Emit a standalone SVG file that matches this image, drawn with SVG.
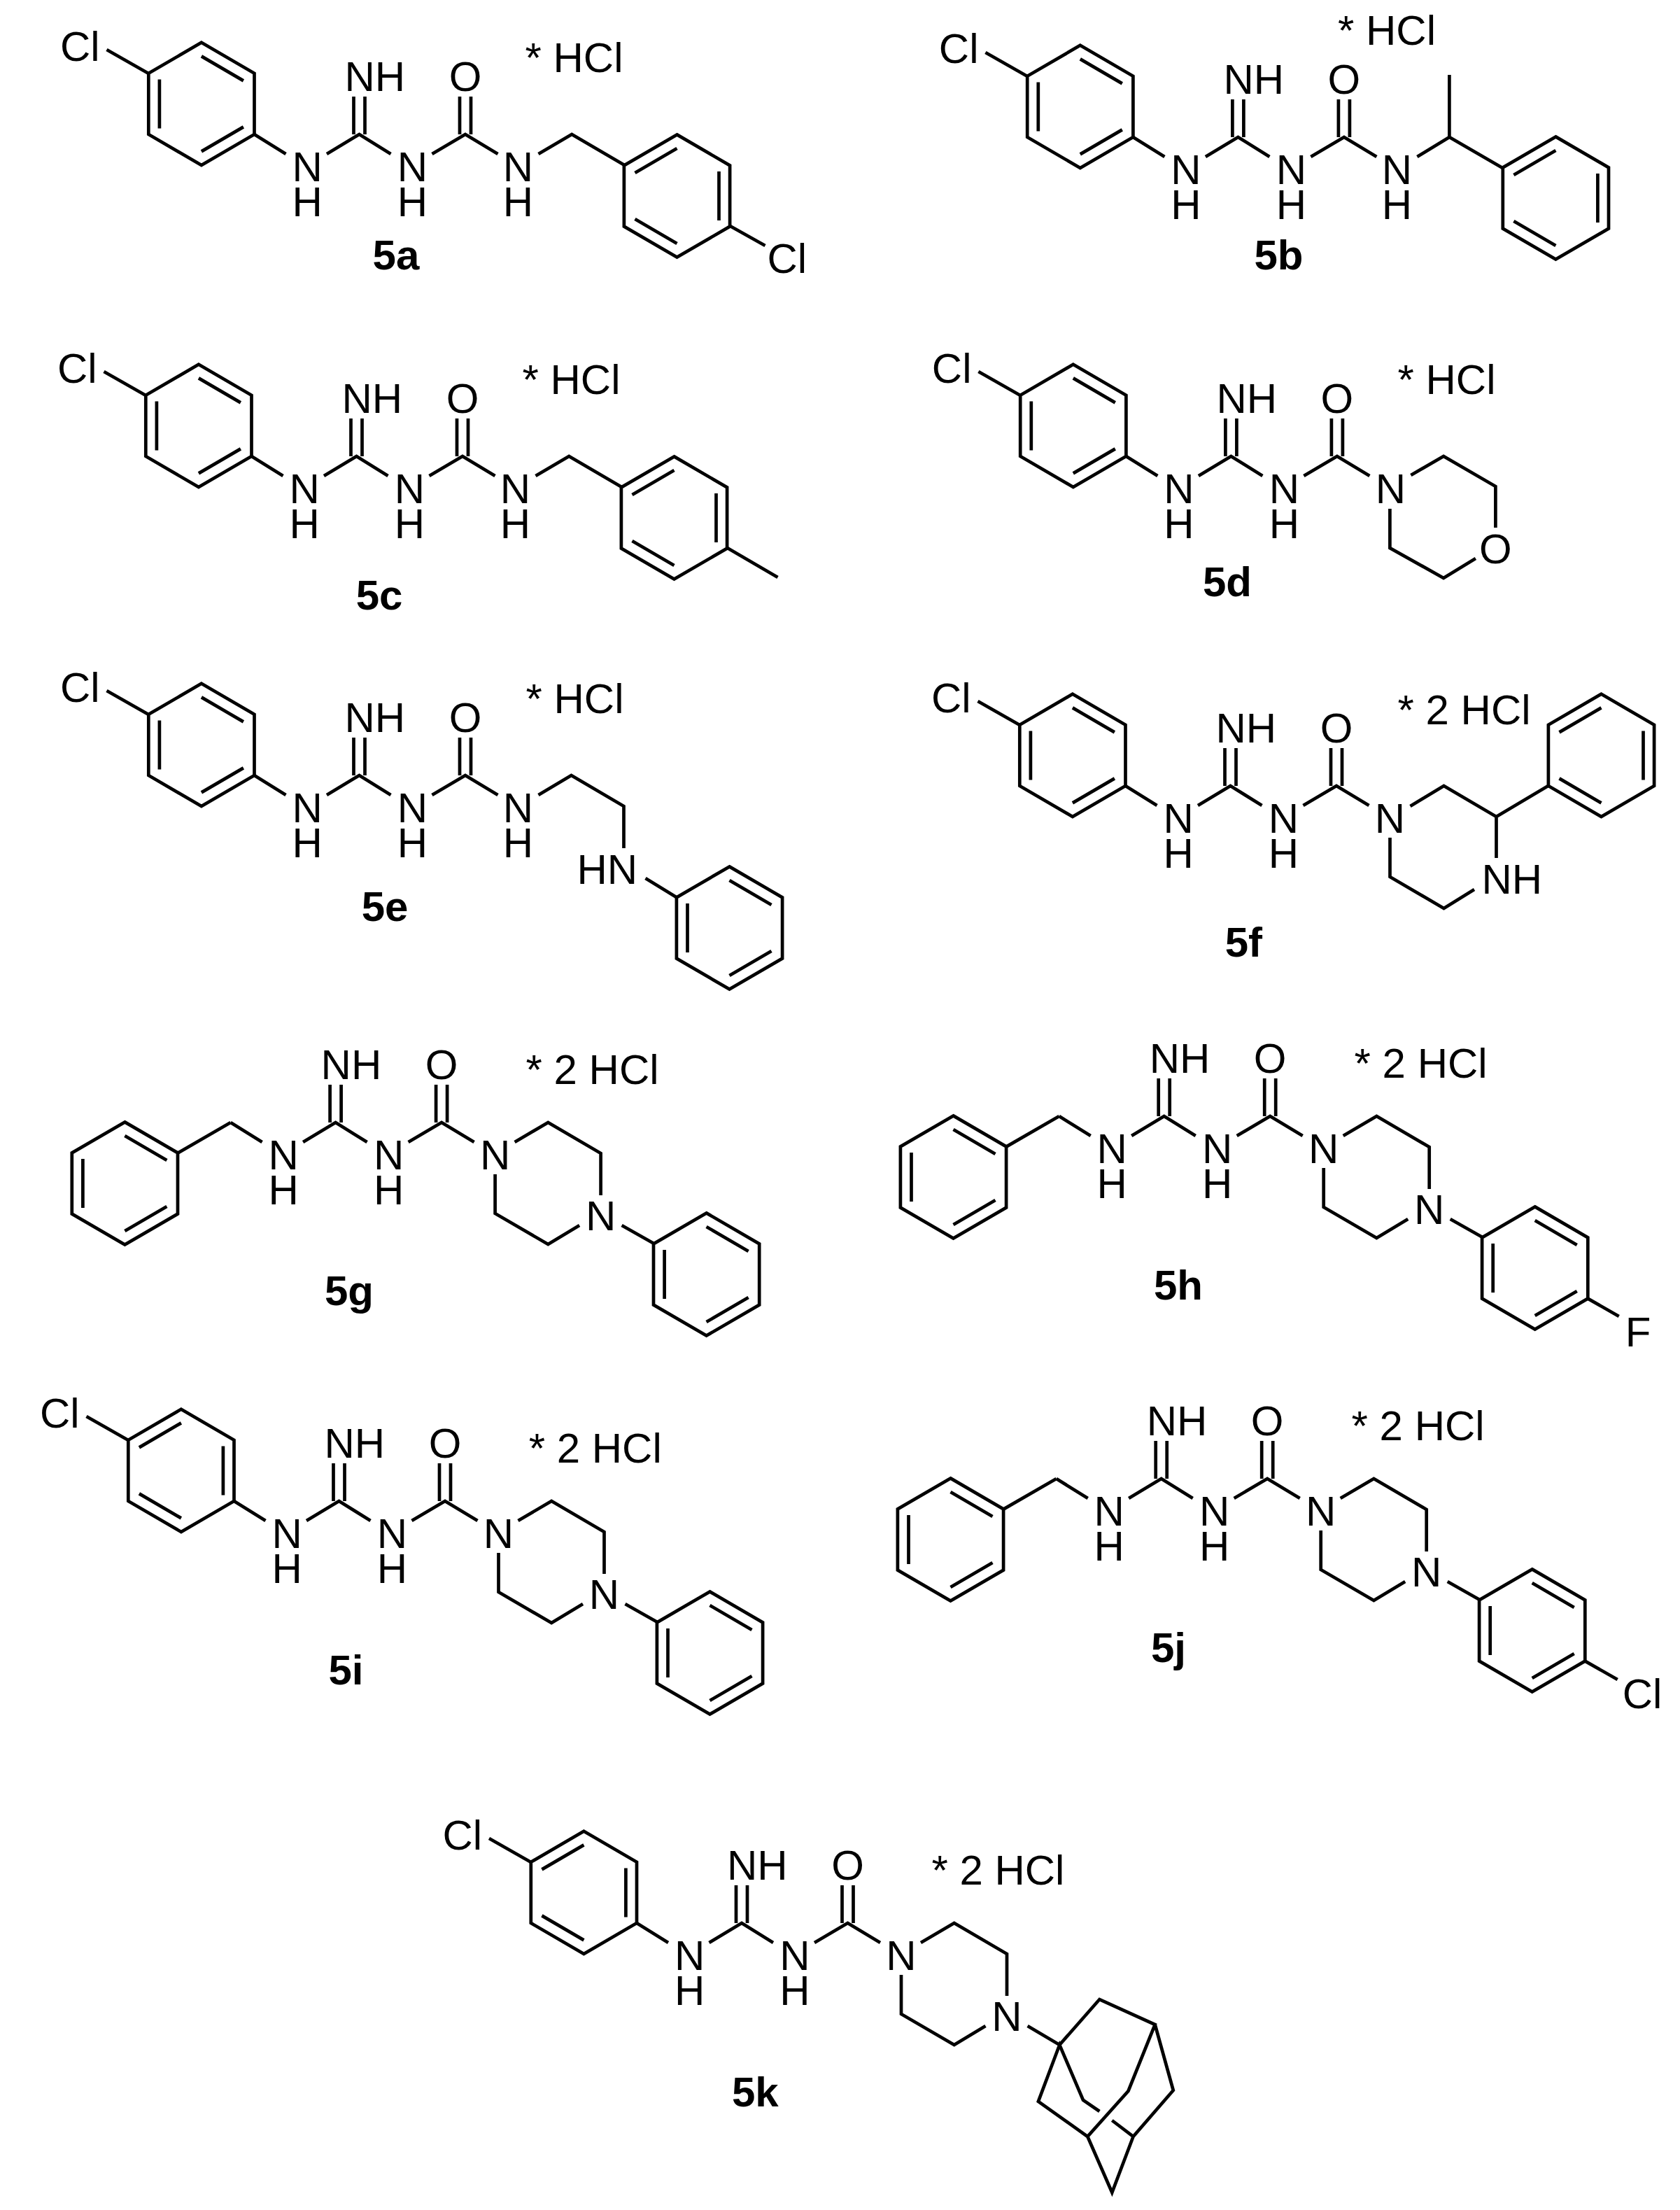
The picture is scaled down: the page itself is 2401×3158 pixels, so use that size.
<svg xmlns="http://www.w3.org/2000/svg" width="2401" height="3158" viewBox="0 0 2401 3158">
<style>
.b{fill:none;stroke:#000;stroke-width:4.7;stroke-linejoin:miter}
.t{font-family:"Liberation Sans",Arial,sans-serif;font-size:60px;fill:#000}
.m{text-anchor:middle}
.l{font-weight:bold}
</style>
<defs>
<g id="ring-a" class="b"><polygon points="0,-87.6 75.6,-43.6 75.6,43.6 0,87.6 -75.6,43.6 -75.6,-43.6"/><path d="M0,-68L60,-33M-60,-35V35M0,68L60,33"/></g>
<g id="ring-b" class="b"><polygon points="0,-87.6 75.6,-43.6 75.6,43.6 0,87.6 -75.6,43.6 -75.6,-43.6"/><path d="M0,-68L-60,-33M60,-35V35M0,68L-60,33"/></g>
<path id="core" class="b" d="M0,0L45,28M103.5,28L150,0L195,28M254,28L301.5,0L348,28M142,0V-54M158,0V-54M293.500,0V-54M309.500,0V-54"/>
<path id="clbond" class="b" d="M-151.200,-87L-211,-121"/>
<path id="pip" class="b" d="M406,28L453.700,0L529,44V104M498.500,147L453.700,174L378,130V74"/>
<path id="pipar" class="b" d="M559,147L605,173"/>
<path id="benzyl" class="b" d="M-75.600,43.600L0,0"/>
</defs>
<g id="bg"><rect width="2401" height="3158" fill="#fff"/></g>

<g id="m5a" transform="translate(363.500,192)">
<use href="#ring-a" x="-75.600" y="-43.600"/><use href="#clbond"/><use href="#core"/>
<path class="b" d="M406,28L453.700,0L529,44"/><use href="#ring-b" x="604" y="88"/><path class="b" d="M680,131L730,159"/>
<g class="t"><text x="-277.600" y="-105">Cl</text><text class="m" x="75.600" y="67">N<tspan x="75.600" dy="50">H</tspan></text><text class="m" x="226" y="67">N<tspan x="226" dy="50">H</tspan></text><text class="m" x="377" y="67">N<tspan x="377" dy="50">H</tspan></text><text x="129" y="-62">NH</text><text class="m" x="301.500" y="-62">O</text><text x="733" y="198">Cl</text></g>
</g>
<text id="salt5a" class="t" x="750.500" y="103">* HCl</text>
<text id="label5a" class="t l" x="532.600" y="385">5a</text>

<g id="m5b" transform="translate(1619.400,196)">
<use href="#ring-a" x="-75.600" y="-43.600"/><use href="#clbond"/><use href="#core"/>
<path class="b" d="M406,28L452,0L528,44M452,0V-89"/><use href="#ring-b" x="604" y="87"/>
<g class="t"><text x="-277.600" y="-106">Cl</text><text class="m" x="75.600" y="67">N<tspan x="75.600" dy="50">H</tspan></text><text class="m" x="226" y="67">N<tspan x="226" dy="50">H</tspan></text><text class="m" x="377" y="67">N<tspan x="377" dy="50">H</tspan></text><text x="129" y="-62">NH</text><text class="m" x="301.500" y="-62">O</text></g>
</g>
<text id="salt5b" class="t" x="1912" y="64">* HCl</text>
<text id="label5b" class="t l" x="1792.500" y="385">5b</text>

<g id="m5c" transform="translate(359.500,652)">
<use href="#ring-a" x="-75.600" y="-43.600"/><use href="#clbond"/><use href="#core"/>
<path class="b" d="M406,28L453.700,0L529,44"/><use href="#ring-b" x="604" y="88"/><path class="b" d="M680,131L752,173"/>
<g class="t"><text x="-277.600" y="-105">Cl</text><text class="m" x="75.600" y="67">N<tspan x="75.600" dy="50">H</tspan></text><text class="m" x="226" y="67">N<tspan x="226" dy="50">H</tspan></text><text class="m" x="377" y="67">N<tspan x="377" dy="50">H</tspan></text><text x="129" y="-62">NH</text><text class="m" x="301.500" y="-62">O</text></g>
</g>
<text id="salt5c" class="t" x="746.500" y="563">* HCl</text>
<text id="label5c" class="t l" x="508.700" y="871">5c</text>

<g id="m5d" transform="translate(1609.400,652)">
<use href="#ring-a" x="-75.600" y="-43.600"/><use href="#clbond"/><use href="#core"/>
<path class="b" d="M407,27L453.700,0L528,43V102M499.500,146L453.700,174L377,131V75"/>
<g class="t"><text x="-277.600" y="-105">Cl</text><text class="m" x="75.600" y="67">N<tspan x="75.600" dy="50">H</tspan></text><text class="m" x="226" y="67">N<tspan x="226" dy="50">H</tspan></text><text class="m" x="378" y="67">N</text><text x="129" y="-62">NH</text><text class="m" x="301.500" y="-62">O</text><text class="m" x="528" y="153">O</text></g>
</g>
<text id="salt5d" class="t" x="1997.500" y="563">* HCl</text>
<text id="label5d" class="t l" x="1719" y="852">5d</text>

<g id="m5e" transform="translate(363.500,1108)">
<use href="#ring-a" x="-75.600" y="-43.600"/><use href="#clbond"/><use href="#core"/>
<path class="b" d="M406,28L453,0L528,44V104M559,147L603,174"/><use href="#ring-a" x="679" y="218"/>
<g class="t"><text x="-277.600" y="-105">Cl</text><text class="m" x="75.600" y="67">N<tspan x="75.600" dy="50">H</tspan></text><text class="m" x="226" y="67">N<tspan x="226" dy="50">H</tspan></text><text class="m" x="377" y="67">N<tspan x="377" dy="50">H</tspan></text><text x="129" y="-62">NH</text><text class="m" x="301.500" y="-62">O</text><text x="461" y="155">HN</text></g>
</g>
<text id="salt5e" class="t" x="751.500" y="1019">* HCl</text>
<text id="label5e" class="t l" x="516.700" y="1316">5e</text>

<g id="m5f" transform="translate(1608.500,1123)">
<use href="#ring-a" x="-75.600" y="-43.600"/><use href="#clbond"/><use href="#core"/>
<path class="b" d="M407,29L455,0L530,44V103M604,0L530,44M498.500,148L455,175L378,130V74"/><use href="#ring-b" x="680" y="-43.600"/>
<g class="t"><text x="-277.600" y="-105">Cl</text><text class="m" x="75.600" y="67">N<tspan x="75.600" dy="50">H</tspan></text><text class="m" x="226" y="67">N<tspan x="226" dy="50">H</tspan></text><text class="m" x="378" y="67">N</text><text x="129" y="-62">NH</text><text class="m" x="301.500" y="-62">O</text><text x="509" y="154">NH</text></g>
</g>
<text id="salt5f" class="t" x="1997.500" y="1035">* 2 HCl</text>
<text id="label5f" class="t l" x="1750.700" y="1367">5f</text>

<g id="m5g" transform="translate(329.600,1604)">
<use href="#ring-a" x="-151.200" y="87"/><use href="#benzyl"/><use href="#core"/><use href="#pip"/><use href="#pipar"/><use href="#ring-a" x="680" y="217"/>
<g class="t"><text class="m" x="75.600" y="67">N<tspan x="75.600" dy="50">H</tspan></text><text class="m" x="226" y="67">N<tspan x="226" dy="50">H</tspan></text><text class="m" x="378" y="67">N</text><text x="129" y="-62">NH</text><text class="m" x="301.500" y="-62">O</text><text class="m" x="529" y="154">N</text></g>
</g>
<text id="salt5g" class="t" x="751.500" y="1549">* 2 HCl</text>
<text id="label5g" class="t l" x="464" y="1865">5g</text>

<g id="m5h" transform="translate(1513.700,1595)">
<use href="#ring-a" x="-151.200" y="87"/><use href="#benzyl"/><use href="#core"/><use href="#pip"/><use href="#pipar"/><use href="#ring-a" x="680" y="217"/><path class="b" d="M755.600,260.600L800,286"/>
<g class="t"><text class="m" x="75.600" y="67">N<tspan x="75.600" dy="50">H</tspan></text><text class="m" x="226" y="67">N<tspan x="226" dy="50">H</tspan></text><text class="m" x="378" y="67">N</text><text x="129" y="-62">NH</text><text class="m" x="301.500" y="-62">O</text><text class="m" x="529" y="154">N</text><text x="809" y="329">F</text></g>
</g>
<text id="salt5h" class="t" x="1935.600" y="1540">* 2 HCl</text>
<text id="label5h" class="t l" x="1649" y="1857">5h</text>

<g id="m5i" transform="translate(334.500,2145)">
<use href="#ring-b" x="-75.600" y="-43.600"/><use href="#clbond"/><use href="#core"/><use href="#pip"/><use href="#pipar"/><use href="#ring-a" x="680" y="217"/>
<g class="t"><text x="-277.600" y="-105">Cl</text><text class="m" x="75.600" y="67">N<tspan x="75.600" dy="50">H</tspan></text><text class="m" x="226" y="67">N<tspan x="226" dy="50">H</tspan></text><text class="m" x="378" y="67">N</text><text x="129" y="-62">NH</text><text class="m" x="301.500" y="-62">O</text><text class="m" x="529" y="154">N</text></g>
</g>
<text id="salt5i" class="t" x="755.700" y="2090">* 2 HCl</text>
<text id="label5i" class="t l" x="469.400" y="2407">5i</text>

<g id="m5j" transform="translate(1509.700,2113)">
<use href="#ring-a" x="-151.200" y="87"/><use href="#benzyl"/><use href="#core"/><use href="#pip"/><use href="#pipar"/><use href="#ring-a" x="680" y="217"/><path class="b" d="M755.600,260.600L802,287"/>
<g class="t"><text class="m" x="75.600" y="67">N<tspan x="75.600" dy="50">H</tspan></text><text class="m" x="226" y="67">N<tspan x="226" dy="50">H</tspan></text><text class="m" x="378" y="67">N</text><text x="129" y="-62">NH</text><text class="m" x="301.500" y="-62">O</text><text class="m" x="529" y="154">N</text><text x="809" y="328">Cl</text></g>
</g>
<text id="salt5j" class="t" x="1931.600" y="2058">* 2 HCl</text>
<text id="label5j" class="t l" x="1645" y="2375">5j</text>

<g id="m5k" transform="translate(910,2748)">
<use href="#ring-b" x="-75.600" y="-43.600"/><use href="#clbond"/><use href="#core"/><use href="#pip"/>
<path class="b" d="M558.600,147L604.300,174L661.400,109L740.700,145L702.500,240L644.300,305L573.900,255L604.300,174L638,253L661.400,269M679.300,282L709.600,305L766.800,239L740.700,145M644.300,305L679.300,385L709.600,305"/>
<g class="t"><text x="-277.600" y="-105">Cl</text><text class="m" x="75.600" y="67">N<tspan x="75.600" dy="50">H</tspan></text><text class="m" x="226" y="67">N<tspan x="226" dy="50">H</tspan></text><text class="m" x="378" y="67">N</text><text x="129" y="-62">NH</text><text class="m" x="301.500" y="-62">O</text><text class="m" x="529" y="154">N</text></g>
</g>
<text id="salt5k" class="t" x="1331.400" y="2693">* 2 HCl</text>
<text id="label5k" class="t l" x="1045.900" y="3010">5k</text>
</svg>
